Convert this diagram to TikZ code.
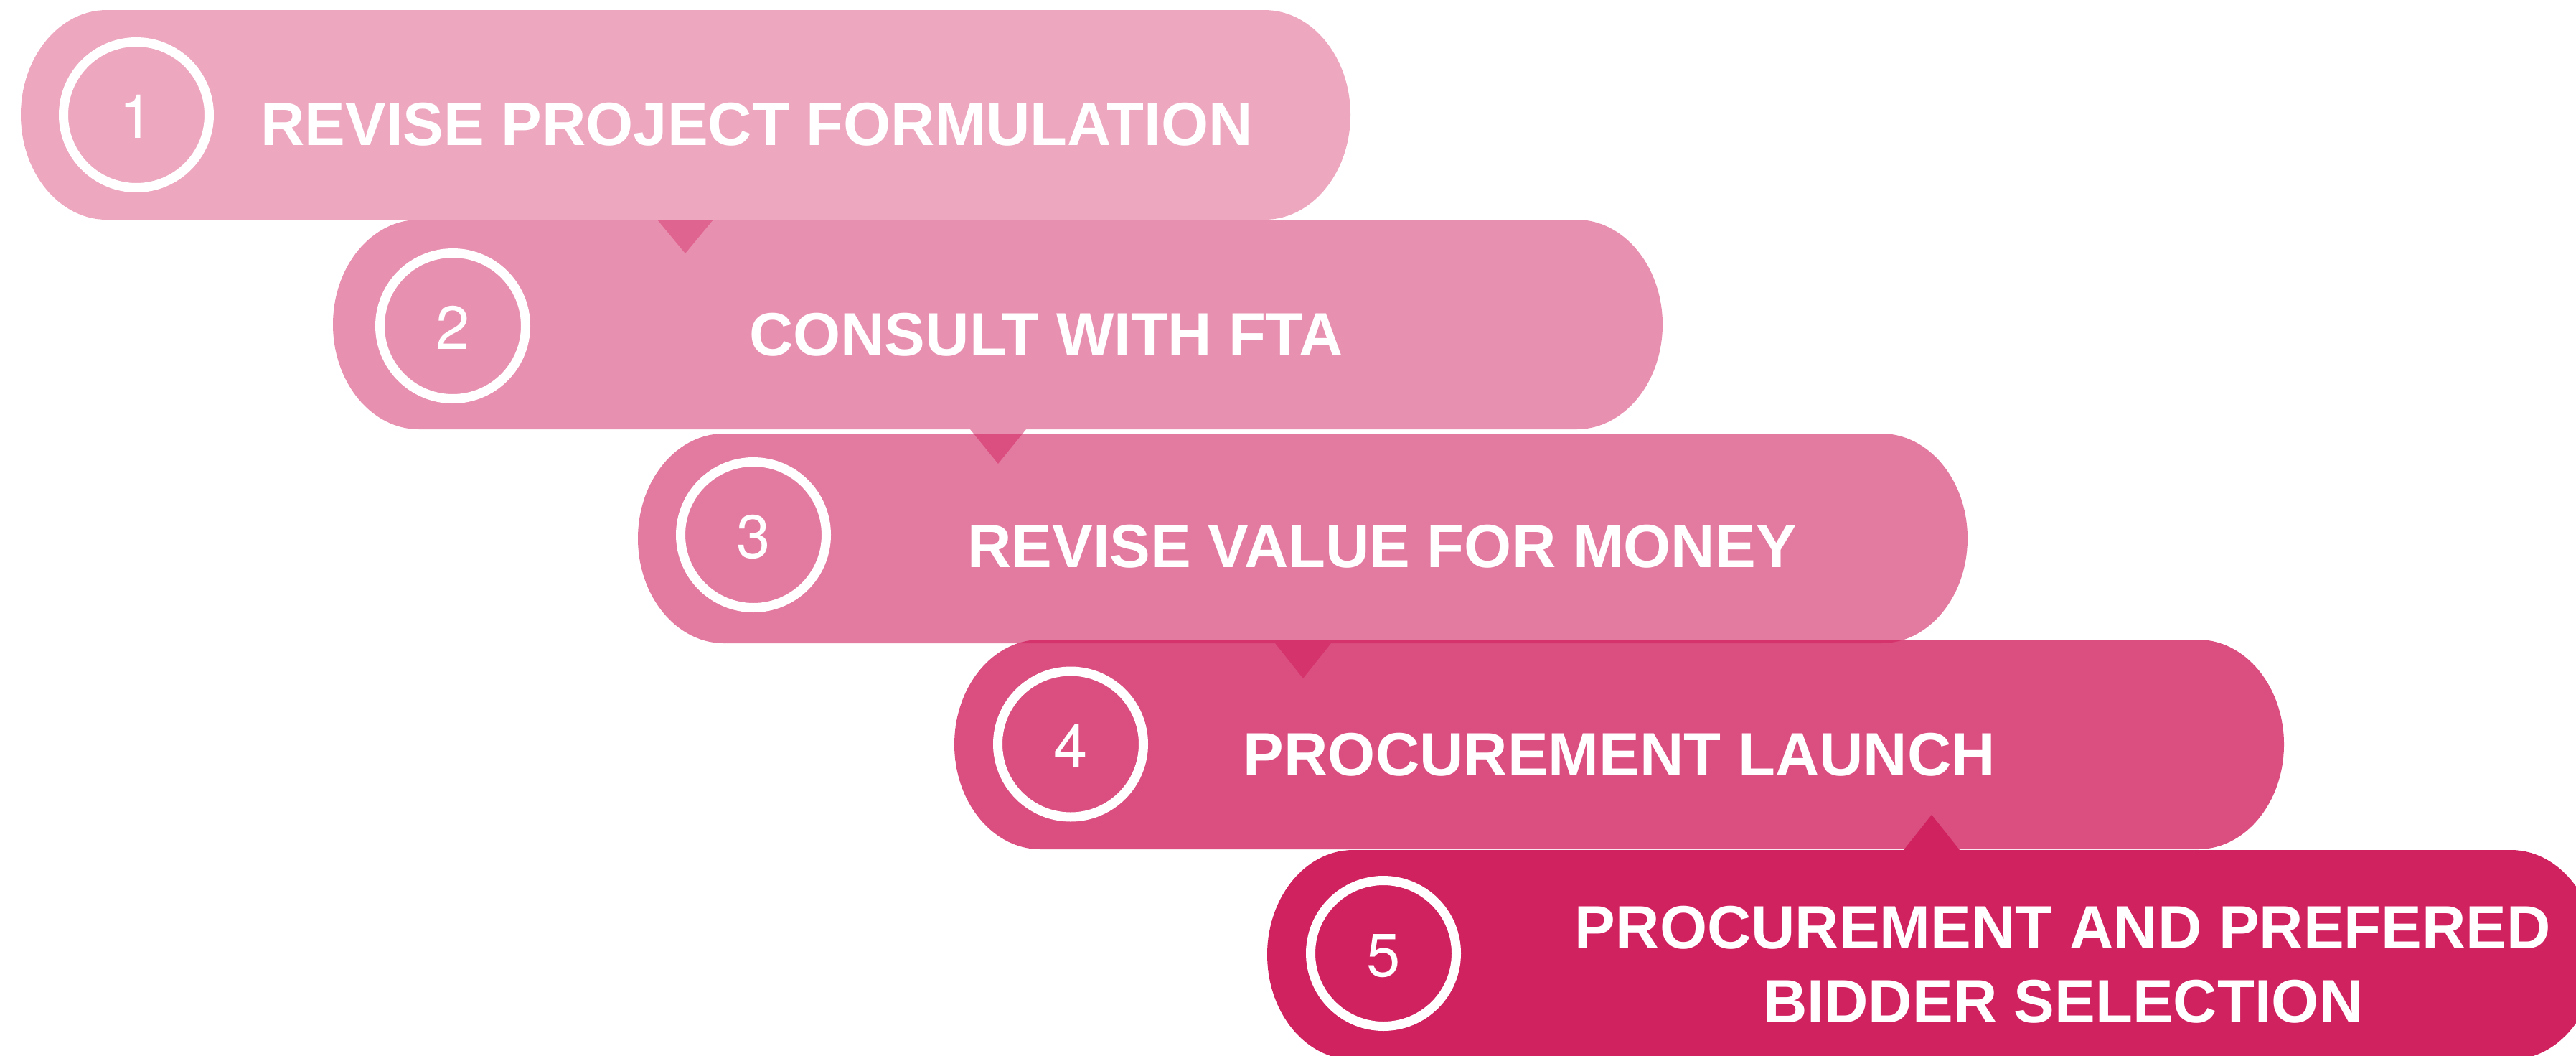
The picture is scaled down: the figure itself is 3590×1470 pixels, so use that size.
\documentclass[tikz,border=0pt]{standalone}
\usepackage{fontspec}
\setmainfont{Liberation Sans}
\newfontfamily\numfont{TeX Gyre Heros}
\definecolor{basepink}{RGB}{209,34,96}
\begin{document}
\begin{tikzpicture}[x=1pt,y=-1pt,
  bartxt/.style={text=white,font=\fontsize{85}{102}\selectfont\bfseries,inner sep=0pt,anchor=base},
  numtxt/.style={text=white,font=\numfont\fontsize{85}{102}\selectfont,inner sep=0pt,anchor=base},
  ring/.style={draw=white,line width=13pt,circle,minimum size=203pt,inner sep=0pt},
  barfill/.style={fill=basepink,fill opacity=#1,draw=none}]
\useasboundingbox (0,0) rectangle (3590,1470);
\clip (0,0) rectangle (3590,1470);
% bar 1
\fill[barfill=0.4] (149,14) -- (1762,14) arc[start angle=-90,end angle=90,x radius=120,y radius=146]
  -- (994,306) -- (955,353) -- (916,306) -- (149,306)
  arc[start angle=90,end angle=270,x radius=120,y radius=146] -- cycle;
% bar 2
\fill[barfill=0.5] (584,306) -- (2197,306) arc[start angle=-90,end angle=90,x radius=120,y radius=146]
  -- (1430,598) -- (1391,646) -- (1352,598) -- (584,598)
  arc[start angle=90,end angle=270,x radius=120,y radius=146] -- cycle;
% bar 3
\fill[barfill=0.6] (1009,604) -- (2622,604) arc[start angle=-90,end angle=90,x radius=120,y radius=146]
  -- (1855,896) -- (1816,945) -- (1777,896) -- (1009,896)
  arc[start angle=90,end angle=270,x radius=120,y radius=146] -- cycle;
% bar 4
\fill[barfill=0.8] (1450,891) -- (3063,891) arc[start angle=-90,end angle=90,x radius=120,y radius=146]
  -- (1450,1183)
  arc[start angle=90,end angle=270,x radius=120,y radius=146] -- cycle;
% bar 5
\fill[barfill=1] (1886,1184) -- (2653,1184) -- (2692,1135) -- (2731,1184) -- (3499,1184)
  arc[start angle=-90,end angle=90,x radius=120,y radius=146]
  -- (1886,1476)
  arc[start angle=90,end angle=270,x radius=120,y radius=146] -- cycle;
% rings
\node[ring] (c1) at (190,160) {};
\node[ring] (c2) at (631,454) {};
\node[ring] (c3) at (1050,745) {};
\node[ring] (c4) at (1492,1036.5) {};
\node[ring] (c5) at (1928,1328) {};
% numbers
\node[numtxt] (n1) at (190,192.5) {1};
\node[numtxt] (n2) at (631,486.5) {2};
\node[numtxt] (n3) at (1050,777.5) {3};
\node[numtxt] (n4) at (1492,1069) {4};
\node[numtxt] (n5) at (1928,1360.5) {5};
% texts
\node[bartxt] (t1) at (1054.5,202) {REVISE PROJECT FORMULATION};
\node[bartxt] (t2) at (1458,495.5) {CONSULT WITH FTA};
\node[bartxt] (t3) at (1926,790) {REVISE VALUE FOR MONEY};
\node[bartxt] (t4) at (2257,1080.5) {PROCUREMENT LAUNCH};
\node[bartxt] (t5a) at (2875,1321.5) {PROCUREMENT AND PREFERED};
\node[bartxt] (t5b) at (2875.5,1424) {BIDDER SELECTION};
\end{tikzpicture}
\end{document}
